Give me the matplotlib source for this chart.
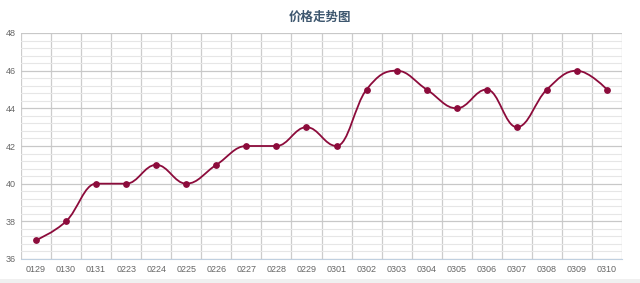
# price trend chart (highcharts-like spline)
import numpy as np
import matplotlib
matplotlib.use('Agg')
import matplotlib.pyplot as plt
from matplotlib.path import Path
from matplotlib.patches import PathPatch, Rectangle
from matplotlib.ticker import MultipleLocator

dates = ['0129', '0130', '0131', '0223', '0224', '0225', '0226', '0227', '0228', '0229',
         '0301', '0302', '0303', '0304', '0305', '0306', '0307', '0308', '0309', '0310']
prices = [37, 38, 40, 40, 41, 40, 41, 42, 42, 43,
          42, 45, 46, 45, 44, 45, 43, 45, 46, 45]

line_color = '#8c0b3b'


# control points the way highcharts builds its splines
def spline_path(xs, ys):
    n = len(xs)
    sm, den = 1.5, 2.5
    lc = [(xs[i], ys[i]) for i in range(n)]
    rc = [(xs[i], ys[i]) for i in range(n)]
    for i in range(1, n - 1):
        px, py = xs[i], ys[i]
        lx, ly = xs[i - 1], ys[i - 1]
        nx, ny = xs[i + 1], ys[i + 1]
        lcx = (sm * px + lx) / den
        lcy = (sm * py + ly) / den
        rcx = (sm * px + nx) / den
        rcy = (sm * py + ny) / den
        corr = ((rcy - lcy) * (rcx - px)) / (rcx - lcx) + py - rcy
        lcy += corr
        rcy += corr
        if lcy > max(ly, py):
            lcy = max(ly, py)
            rcy = 2 * py - lcy
        elif lcy < min(ly, py):
            lcy = min(ly, py)
            rcy = 2 * py - lcy
        if rcy > max(py, ny):
            rcy = max(py, ny)
            lcy = 2 * py - rcy
        elif rcy < min(py, ny):
            rcy = min(py, ny)
            lcy = 2 * py - rcy
        lc[i] = (lcx, lcy)
        rc[i] = (rcx, rcy)
    verts = [(xs[0], ys[0])]
    codes = [Path.MOVETO]
    for i in range(1, n):
        verts += [rc[i - 1], lc[i], (xs[i], ys[i])]
        codes += [Path.CURVE4] * 3
    return Path(verts, codes)


fig = plt.figure(figsize=(6.4, 2.83), dpi=100)
# light strip along the bottom edge
fig.patches.append(Rectangle((0, 0), 1, 4 / 283, transform=fig.transFigure,
                             facecolor='#f0f0f0', edgecolor='none'))
ax = fig.add_axes([21 / 640, 1 - 259 / 283, 601 / 640, 226 / 283])

x = np.arange(len(dates))
ax.set_xlim(-0.5, len(dates) - 0.5)
ax.set_ylim(36, 48)

ax.yaxis.set_major_locator(MultipleLocator(2))
ax.yaxis.set_minor_locator(MultipleLocator(0.4))
ax.set_xticks(x)
ax.set_xticklabels(dates)
ax.set_xticks(np.arange(-0.5, len(dates), 1), minor=True)

ax.grid(True, which='major', axis='y', color='#c8c8c8', lw=0.9)
ax.grid(True, which='minor', axis='y', color='#e6e6e6', lw=0.8)
ax.grid(True, which='minor', axis='x', color='#cccccc', lw=0.9)
ax.set_axisbelow(True)

ax.tick_params(axis='both', which='both', length=0, labelsize=6.5,
               labelcolor='#666666', pad=4)
for lbl in ax.get_xticklabels() + ax.get_yticklabels():
    lbl.set_family('Liberation Sans')

for s in ['top', 'right', 'left']:
    ax.spines[s].set_visible(False)
ax.spines['bottom'].set_color('#c0d0e0')

ax.add_patch(PathPatch(spline_path(x, prices), fill=False,
                       edgecolor=line_color, lw=1.3, zorder=3))
ax.scatter(x, prices, s=15, color=line_color, zorder=4)

fig.text(0.5, 1 - 17 / 283, '价格走势图', ha='center', va='center',
         fontsize=9, fontweight='bold', color='#3e576f',
         family=['Noto Sans CJK SC', 'DejaVu Sans'])

fig.savefig('out.png', dpi=100)
